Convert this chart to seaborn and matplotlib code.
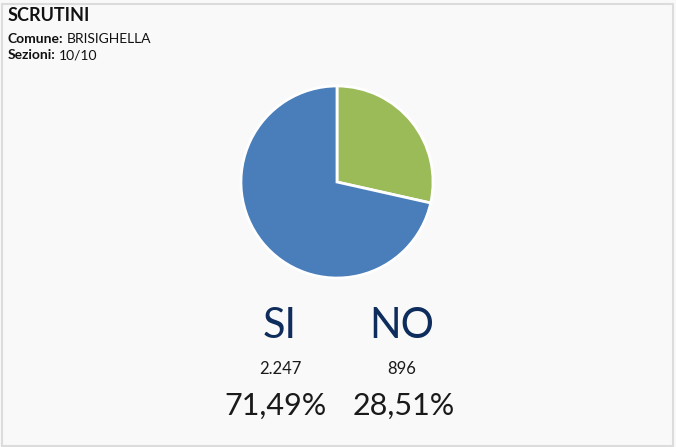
import matplotlib
matplotlib.use("Agg")
import matplotlib.pyplot as plt
from matplotlib.patches import Rectangle
from matplotlib.transforms import offset_copy
import seaborn as sns

# data
labels = ["SI", "NO"]
votes = [2247, 896]
vote_text = ["2.247", "896"]
pct_text = ["71,49%", "28,51%"]
colors = ["#4a7ebb", "#9bbb59"]
comune = "BRISIGHELLA"
sezioni = "10/10"

sns.set_theme(style="white")
plt.rcParams["font.family"] = ["Lato", "DejaVu Sans"]

W, H = 676, 447
fig = plt.figure(figsize=(W / 100, H / 100), dpi=100)
fig.patch.set_facecolor("#f9f9f9")

# light frame around the card
fig.add_artist(Rectangle((1.5 / W, 1.5 / H), 671.5 / W, 442 / H, transform=fig.transFigure,
                         fill=False, edgecolor="#dcdcdc", linewidth=1.5))

# header
fig.text(8 / W, 1 - 21 / H, "SCRUTINI", fontsize=13, fontweight="bold", color="#111111")
renderer = fig.canvas.get_renderer()
for y, key, val in [(43, "Comune:", comune), (59, "Sezioni:", sezioni)]:
    k = fig.text(8 / W, 1 - y / H, key, fontsize=10, fontweight="bold", color="#111111")
    w = k.get_window_extent(renderer).width
    fig.text(8 / W, 1 - y / H, val, fontsize=10, color="#111111",
             transform=offset_copy(fig.transFigure, fig=fig, x=w + 3, y=0, units="dots"))

# pie: NO starts at top going clockwise
cx, cy, r = 337, 182, 97
ax = fig.add_axes([(cx - r) / W, 1 - (cy + r) / H, 2 * r / W, 2 * r / H])
ax.pie(votes[::-1], colors=colors[::-1], startangle=90, counterclock=False,
       wedgeprops=dict(edgecolor="white", linewidth=2))
ax.set_xlim(-1.01, 1.01)
ax.set_ylim(-1.01, 1.01)
ax.set_aspect("equal")
ax.axis("off")

# labels under the pie
xs = [280, 402]
for i in range(len(labels)):
    fig.text(xs[i] / W, 1 - 326 / H, labels[i], fontsize=30, color="#0e2d5c",
             ha="center", va="center")
    fig.text(xs[i] / W, 1 - 369 / H, vote_text[i], fontsize=12, color="#1a1a1a",
             ha="center", va="center")
    fig.text((xs[i] - 4 + 6 * i) / W, 1 - 406 / H, pct_text[i], fontsize=22, color="#1a1a1a",
             ha="center", va="center")

fig.savefig("out.png", dpi=100, facecolor=fig.get_facecolor())
